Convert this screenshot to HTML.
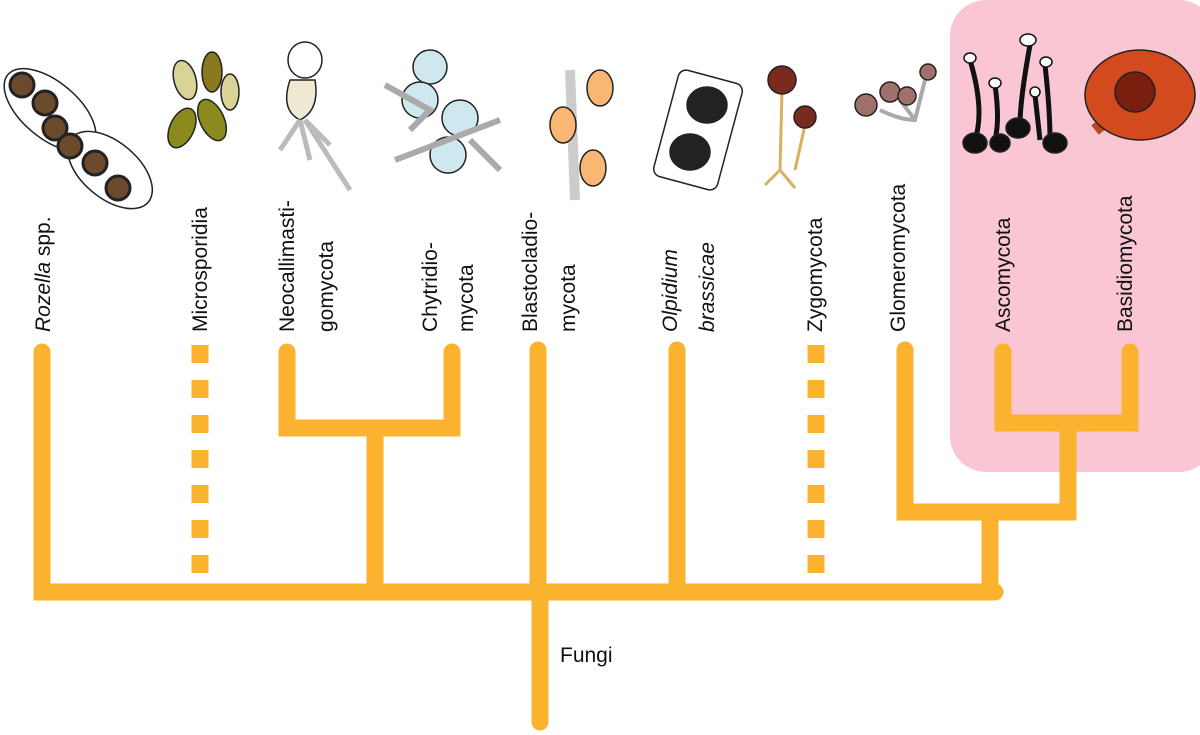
<!DOCTYPE html>
<html><head><meta charset="utf-8"><style>
html,body{margin:0;padding:0;background:#fff}
svg{display:block}
text{font-family:"Liberation Sans","DejaVu Sans",sans-serif;font-size:21px;fill:#111}
</style></head><body>
<svg width="1200" height="735" viewBox="0 0 1200 735" xmlns="http://www.w3.org/2000/svg">
<rect x="950" y="0" width="265" height="472" rx="36" fill="#FBC6D3"/>
<g stroke="#FBB22E" stroke-width="17" stroke-linecap="round" fill="none">
<path d="M42 352V592H995"/>
<path d="M540 592V722"/>
<path d="M287 352V428H452V352"/>
<path d="M375 428V592"/>
<path d="M538 350V592"/>
<path d="M677 350V592"/>
<path d="M905 350V512H1068V423"/>
<path d="M1003 352V423H1130V352"/>
<path d="M990 512V592"/>
</g>
<g stroke="#FBB22E" stroke-width="17" stroke-dasharray="18 17">
<path d="M200 345V586"/>
<path d="M816 345V586"/>
</g>
<g>
<text transform="translate(50,332) rotate(-90)"><tspan font-style="italic">Rozella</tspan> spp.</text>
<text transform="translate(207,332) rotate(-90)">Microsporidia</text>
<text transform="translate(294,332) rotate(-90)">Neocallimasti-</text>
<text transform="translate(333,332) rotate(-90)">gomycota</text>
<text transform="translate(437,332) rotate(-90)">Chytridio-</text>
<text transform="translate(473,332) rotate(-90)">mycota</text>
<text transform="translate(537,332) rotate(-90)">Blastocladio-</text>
<text transform="translate(575,332) rotate(-90)">mycota</text>
<text transform="translate(677,332) rotate(-90)" font-style="italic">Olpidium</text>
<text transform="translate(714,332) rotate(-90)" font-style="italic">brassicae</text>
<text transform="translate(822,332) rotate(-90)">Zygomycota</text>
<text transform="translate(905,332) rotate(-90)">Glomeromycota</text>
<text transform="translate(1010,332) rotate(-90)">Ascomycota</text>
<text transform="translate(1132,332) rotate(-90)">Basidiomycota</text>
<text x="560" y="662">Fungi</text>
</g>
<g stroke="#222" stroke-width="1.5">
<ellipse cx="50" cy="110" rx="55" ry="28" transform="rotate(40 50 110)" fill="#fff"/>
<ellipse cx="110" cy="170" rx="50" ry="28" transform="rotate(40 110 170)" fill="#fff"/>
<g fill="#6b4a2e" stroke-width="3"><circle cx="22" cy="85" r="12"/><circle cx="45" cy="103" r="12"/><circle cx="55" cy="128" r="12"/><circle cx="70" cy="146" r="12"/><circle cx="95" cy="163" r="12"/><circle cx="118" cy="188" r="12"/></g>
<g stroke-width="1.5"><ellipse cx="185" cy="80" rx="11" ry="20" fill="#d9d496" transform="rotate(-15 185 80)"/><ellipse cx="212" cy="72" rx="10" ry="20" fill="#8a7a1e"/><ellipse cx="230" cy="92" rx="9" ry="18" fill="#d9d496"/><ellipse cx="182" cy="128" rx="12" ry="21" fill="#8a8a1e" transform="rotate(25 182 128)"/><ellipse cx="212" cy="120" rx="12" ry="22" fill="#8a8a1e" transform="rotate(-25 212 120)"/></g>
<ellipse cx="305" cy="60" rx="17" ry="18" fill="#fff"/>
<path d="M290 80Q280 110 300 120Q320 110 315 80Z" fill="#eee9d0"/>
<path d="M300 120L280 150M300 120L310 160M305 120L330 145M305 120L350 190" stroke="#bbb" stroke-width="5"/>
<g fill="#cfe8f0"><circle cx="430" cy="67" r="17"/><circle cx="420" cy="100" r="18"/><circle cx="460" cy="118" r="18"/><circle cx="448" cy="155" r="18"/></g>
<path d="M385 85L430 110L410 130M395 160L500 120M470 140L500 170" stroke="#aaa" stroke-width="6" fill="none"/>
<path d="M570 70L575 200" stroke="#ccc" stroke-width="10"/>
<g fill="#f9b773"><ellipse cx="600" cy="88" rx="13" ry="18"/><ellipse cx="563" cy="125" rx="13" ry="18"/><ellipse cx="593" cy="168" rx="13" ry="18"/></g>
<rect x="665" y="75" width="66" height="110" rx="8" fill="#fff" transform="rotate(15 698 130)"/>
<ellipse cx="707" cy="105" rx="20" ry="18" fill="#222"/><ellipse cx="690" cy="152" rx="20" ry="18" fill="#222"/>
<path d="M782 90L780 170L765 185M780 170L795 188M805 125L795 170" stroke="#d9b060" stroke-width="3" fill="none"/>
<circle cx="782" cy="80" r="14" fill="#7a2a1e"/><circle cx="805" cy="117" r="11" fill="#7a2a1e"/>
<path d="M880 110Q900 120 915 120L925 80M915 120L900 100" stroke="#aaa" stroke-width="4" fill="none"/>
<g fill="#a0706a"><circle cx="866" cy="105" r="11"/><circle cx="890" cy="92" r="10"/><circle cx="907" cy="96" r="9"/><circle cx="928" cy="72" r="8"/></g>
<path d="M970 60Q985 110 975 140M1030 45Q1020 100 1020 125M1045 65Q1050 110 1050 140M995 85Q1000 120 995 140M1035 95L1040 140" stroke="#111" stroke-width="5" fill="none"/>
<g fill="#111"><ellipse cx="975" cy="143" rx="12" ry="10"/><ellipse cx="1018" cy="128" rx="12" ry="10"/><ellipse cx="1055" cy="143" rx="12" ry="10"/><ellipse cx="1000" cy="143" rx="10" ry="9"/></g>
<g fill="#fff" stroke="#111"><ellipse cx="970" cy="58" rx="6" ry="5"/><ellipse cx="1028" cy="40" rx="8" ry="6"/><ellipse cx="1046" cy="62" rx="6" ry="5"/><ellipse cx="995" cy="83" rx="6" ry="5"/><ellipse cx="1035" cy="92" rx="5" ry="5"/></g>
<path d="M1120 110L1095 130" stroke="#b84a1e" stroke-width="12"/>
<ellipse cx="1140" cy="95" rx="55" ry="45" fill="#d24a1e"/>
<ellipse cx="1135" cy="92" rx="20" ry="20" fill="#7a1e0e"/>
</g>
</svg>
</body></html>
